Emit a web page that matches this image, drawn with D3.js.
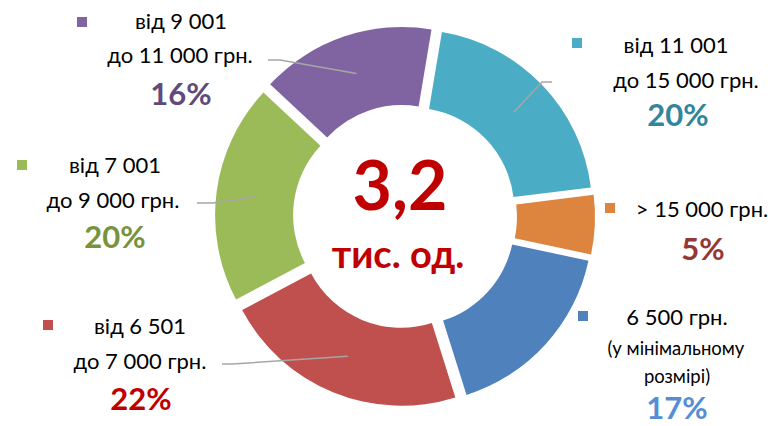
<!DOCTYPE html>
<html>
<head>
<meta charset="utf-8">
<script src="https://cdn.jsdelivr.net/npm/d3@7"></script>
<style>
  html, body { margin: 0; padding: 0; background: #fff; }
  svg { display: block; font-family: Lato, "Open Sans", sans-serif; }
</style>
</head>
<body>
<div id="chart"></div>
<script>
// Income groups (slice order, clockwise from top)
const categories = [
    ['від 11 001', 'до 15 000 грн.'],
    ['> 15 000 грн.'],
    ['6 500 грн.', '(у мінімальному', 'розмірі)'],
    ['від 6 501', 'до 7 000 грн.'],
    ['від 7 001', 'до 9 000 грн.'],
    ['від 9 001', 'до 11 000 грн.']
];
// shares in % (labels show them rounded)
const values = [20.4, 5.3, 16.8, 22.1, 19.7, 15.7];
const totalLabel = ['3,2', 'тис. од.'];

const sliceColors = ['#4BACC6', '#DD853F', '#4F81BD', '#C0504D', '#9BBB59', '#8064A2'];
const pctColors = ['#31859C', '#953735', '#558ED5', '#C00000', '#77933C', '#604A7B'];

// label placement (layout only)
const labelLayout = [
    { marker: [572, 38], lines: [[676, 53], [686, 88]], pct: [678, 126], leader: [552, 82, -10] },
    { marker: [605, 203], lines: [[702, 217]], pct: [703, 260], leader: null },
    { marker: [578, 311], lines: [[677, 325], [676, 355], [677, 383]], pct: [677, 419], leader: null },
    { marker: [43, 320], lines: [[140, 334], [140, 369]], pct: [141, 410], leader: [222, 364, 10] },
    { marker: [17, 160], lines: [[115, 173], [113, 208]], pct: [115, 248], leader: [197, 203, 16] },
    { marker: [77, 17], lines: [[181, 29], [180, 63]], pct: [181, 105], leader: [268, 60, 12] }
];

function drawChart() {
    const width = 776, height = 426;
    const cx = 405, cy = 216.5;
    const outerR = 180, innerR = 102, explode = 10;

    const svg = d3.select('#chart').append('svg')
        .attr('width', width)
        .attr('height', height);

    const pie = d3.pie()
        .sort(null)
        .startAngle(9.5 * Math.PI / 180)
        .endAngle(9.5 * Math.PI / 180 + 2 * Math.PI)
        .value(d => d);

    const arcs = pie(values);
    const arc = d3.arc().innerRadius(innerR).outerRadius(outerR);

    const shift = d => {
        const mid = (d.startAngle + d.endAngle) / 2;
        return [explode * Math.sin(mid), -explode * Math.cos(mid)];
    };

    const g = svg.append('g').attr('transform', `translate(${cx},${cy})`);

    g.selectAll('path.slice')
        .data(arcs)
        .enter()
        .append('path')
        .attr('class', 'slice')
        .attr('transform', d => `translate(${shift(d)})`)
        .attr('d', arc)
        .attr('fill', (d, i) => sliceColors[i]);

    // leader lines
    arcs.forEach((d, i) => {
        const lay = labelLayout[i];
        if (!lay.leader) return;
        const c = arc.centroid(d);
        const s = shift(d);
        const end = [cx + c[0] + s[0], cy + c[1] + s[1]];
        const [x0, y0, knee] = lay.leader;
        svg.append('polyline')
            .attr('points', [[x0, y0], [x0 + knee, y0], end].map(p => p.join(',')).join(' '))
            .attr('fill', 'none')
            .attr('stroke', '#A6A6A6')
            .attr('stroke-width', 1.5);
    });

    // labels
    arcs.forEach((d, i) => {
        const lay = labelLayout[i];
        svg.append('rect')
            .attr('x', lay.marker[0])
            .attr('y', lay.marker[1])
            .attr('width', 10)
            .attr('height', 10)
            .attr('fill', sliceColors[i]);

        categories[i].forEach((line, j) => {
            const small = i === 2 && j > 0;
            svg.append('text')
                .attr('x', lay.lines[j][0])
                .attr('y', lay.lines[j][1])
                .attr('text-anchor', 'middle')
                .attr('font-size', small ? 18.5 : 22)
                .attr('fill', '#000')
                .text(line);
        });

        svg.append('text')
            .attr('x', lay.pct[0])
            .attr('y', lay.pct[1])
            .attr('text-anchor', 'middle')
            .attr('font-size', 31)
            .attr('font-weight', 700)
            .attr('fill', pctColors[i])
            .text(Math.round(d.data) + '%');
    });

    // centre total
    svg.append('text')
        .attr('x', 400)
        .attr('y', 210)
        .attr('text-anchor', 'middle')
        .attr('font-size', 68)
        .attr('font-weight', 700)
        .attr('fill', '#C00000')
        .text(totalLabel[0]);

    svg.append('text')
        .attr('x', 398)
        .attr('y', 268)
        .attr('text-anchor', 'middle')
        .attr('font-size', 38)
        .attr('font-weight', 700)
        .attr('fill', '#C00000')
        .text(totalLabel[1]);
}

drawChart();
</script>
</body>
</html>
